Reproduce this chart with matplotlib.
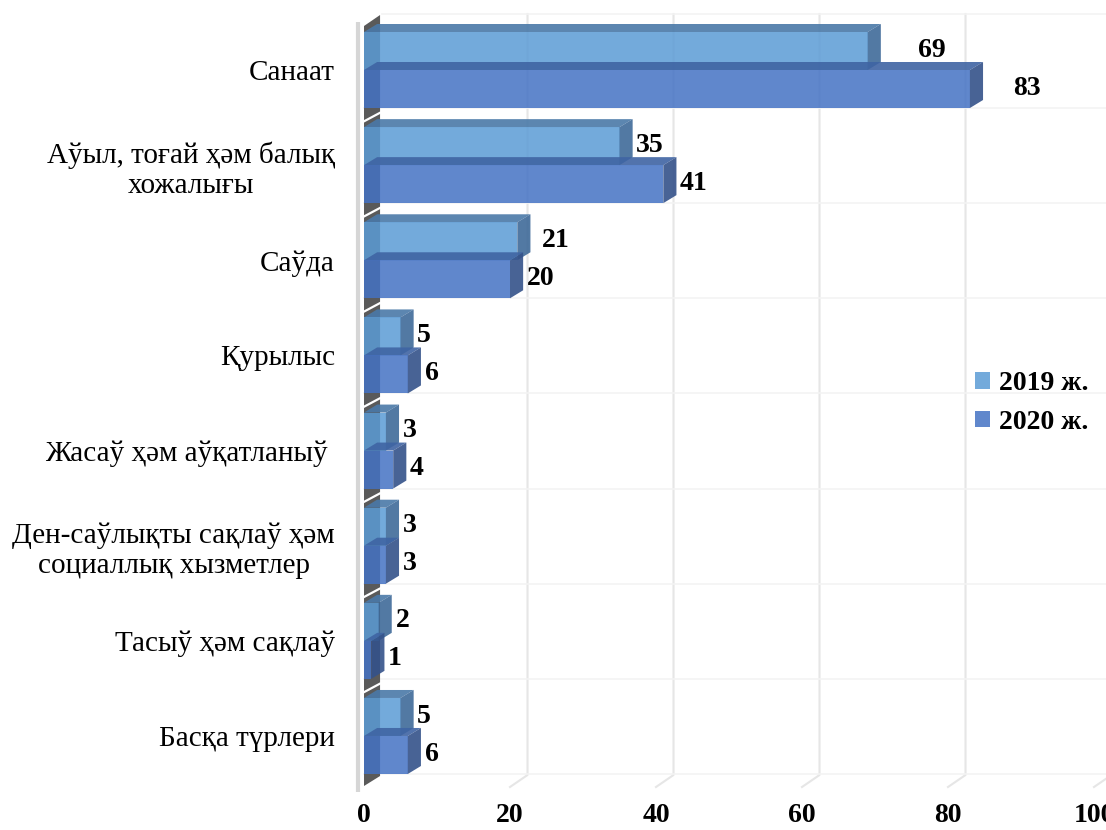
import matplotlib
matplotlib.use('Agg')
import matplotlib.pyplot as plt
from matplotlib.patches import Polygon, Patch

plt.rcParams['font.family'] = ['Liberation Serif', 'DejaVu Serif']

categories = ['Санаат', 'Аўыл, тоғай ҳәм балық\nхожалығы', 'Саўда', 'Қурылыс',
              'Жасаў ҳәм аўқатланыў ', 'Ден-саўлықты сақлаў ҳәм\nсоциаллық хызметлер',
              'Тасыў ҳәм сақлаў', 'Басқа түрлери']
values_2019 = [69, 35, 21, 5, 3, 3, 2, 5]
values_2020 = [83, 41, 20, 6, 4, 3, 1, 6]
series_names = ['2019 ж.', '2020 ж.']
xticks = [0, 20, 40, 60, 80, 100]

# extra shift of some value labels (Excel puts them a bit further out)
nudge_2019 = [4.6, 0, 1.0, 0, 0, 0, 0, 0]
nudge_2020 = [3.6, 0, 0, 0, 0, 0, 0, 0]

W, H = 1106, 830
fig = plt.figure(figsize=(W / 100, H / 100), dpi=100)
ax = fig.add_axes([364 / W, 40 / H, 730 / W, 790 / H])

ypx = 95.14          # pixels per category
y0px = 70            # pixel row of the first category centre


def py(p):
    return (p - y0px) / ypx


ax.set_xlim(0, 100)
ax.set_ylim(py(790), py(0))

h = 38 / ypx          # bar thickness
dx = 1.8              # 3D depth in x (value units)
dy = 8 / ypx          # 3D depth in y
back = 2.4            # back wall offset

# left wall
wall = Polygon([(0, py(26)), (2.2, py(15)), (2.2, py(776)), (0, py(786))],
               closed=True, facecolor='#5a5a5a', edgecolor='none', zorder=1)
ax.add_patch(wall)
ax.plot([-0.8, -0.8], [py(22), py(792)], color='#d6d6d6', lw=3,
        solid_capstyle='butt', clip_on=False, zorder=1)
for i in range(len(categories) - 1):
    yb = i + h + 0.08
    ax.plot([0, 2.2], [yb + 0.06, yb - 0.03], color='white', lw=1.6, zorder=1.5)

# back grid
for v in xticks[1:]:
    ax.plot([v + back, v + back, v], [py(14), py(775), py(787)],
            color='#e6e6e6', lw=1.5, clip_on=False, zorder=0.5)
ax.plot([back, 103], [py(14), py(14)], color='#f3f3f3', lw=1.2, clip_on=False, zorder=0.5)
for i in range(len(categories)):
    ax.plot([0, 103], [i + h, i + h], color='#f3f3f3', lw=1.2, clip_on=False, zorder=0.5)

ypos = list(range(len(categories)))
specs = [
    (values_2019, [p - h / 2 for p in ypos], '#5b9bd5', '#4a79a8', '#3f6a99', nudge_2019),
    (values_2020, [p + h / 2 for p in ypos], '#4472c4', '#3f64a3', '#34528a', nudge_2020),
]
z = 2
for vals, yy, front, top, side, nudge in specs:
    bars = ax.barh(yy, vals, height=h, color=front, alpha=0.85, zorder=z + 0.1)
    for b, v, nd in zip(bars, vals, nudge):
        x0, yt, w, hh = b.get_x(), b.get_y(), b.get_width(), b.get_height()
        ax.add_patch(Polygon([(x0, yt), (x0 + w, yt), (x0 + w + dx, yt - dy), (x0 + dx, yt - dy)],
                             closed=True, facecolor=top, edgecolor='none', alpha=0.9, zorder=z))
        ax.add_patch(Polygon([(x0 + w, yt), (x0 + w + dx, yt - dy), (x0 + w + dx, yt + hh - dy),
                              (x0 + w, yt + hh)],
                             closed=True, facecolor=side, edgecolor='none', alpha=0.9, zorder=z + 0.2))
        ax.text(x0 + w + dx + 0.5 + nd, yt + hh / 2 - 0.01, str(v), ha='left', va='center',
                fontsize=20, fontweight='bold', zorder=5)
    z += 1

ax.set_yticks(ypos)
ax.set_yticklabels(categories, fontsize=21, ha='right', multialignment='center')
ax.set_xticks(xticks)
ax.set_xticklabels([str(t) for t in xticks], fontsize=20, fontweight='bold')
ax.tick_params(axis='y', length=0, pad=21)
ax.tick_params(axis='x', length=0, pad=9.5)
for s in ax.spines.values():
    s.set_visible(False)

handles = [Patch(facecolor='#5b9bd5', alpha=0.85), Patch(facecolor='#4472c4', alpha=0.85)]
fig.legend(handles, series_names, loc='upper left', bbox_to_anchor=(975 / W, 1 - 371 / H),
           frameon=False, prop={'size': 20, 'weight': 'bold'}, handlelength=0.55,
           handleheight=0.55, handletextpad=0.3, labelspacing=0.5, borderpad=0,
           borderaxespad=0)

fig.savefig('out.png', dpi=100)
